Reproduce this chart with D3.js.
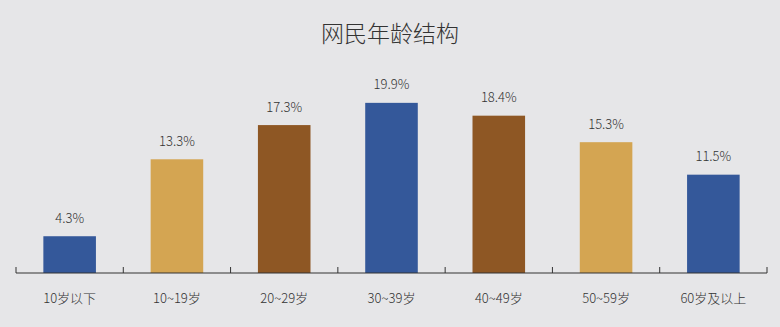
<!DOCTYPE html>
<html><head><meta charset="utf-8">
<script src="https://cdn.jsdelivr.net/npm/d3@7"></script>
<style>html,body{margin:0;padding:0;background:#e6e6e8;}svg{display:block;}</style>
</head><body><svg id="c" width="780" height="327"></svg>
<script>
const categories = ["10岁以下","10~19岁","20~29岁","30~39岁","40~49岁","50~59岁","60岁及以上"];
const values = [4.3,13.3,17.3,19.9,18.4,15.3,11.5];
const labels = ["4.3%","13.3%","17.3%","19.9%","18.4%","15.3%","11.5%"];
const colors = ["#34589a","#d4a552","#8e5724","#34589a","#8e5724","#d4a552","#34589a"];
const title = "网民年龄结构";

const svg = d3.select("#c");
const font = "'Noto Sans CJK SC','Noto Sans',sans-serif";
svg.append("rect").attr("width",780).attr("height",327).attr("fill","#e6e6e8");

const x = d3.scaleBand().domain(categories).range([16,767]).paddingInner(0).paddingOuter(0);
const y = d3.scaleLinear().domain([0,20]).range([273,102]);
const bw = x.bandwidth()*0.49;

svg.append("text").attr("x",390).attr("y",42).attr("text-anchor","middle")
  .attr("font-family",font).attr("font-size",23).attr("font-weight",300).attr("fill","#333").text(title);

svg.selectAll("rect.bar").data(values).enter().append("rect").attr("class","bar")
  .attr("x",(d,i)=>x(categories[i])+x.bandwidth()/2-bw/2)
  .attr("y",d=>y(d)).attr("width",bw).attr("height",d=>y(0)-y(d))
  .attr("fill",(d,i)=>colors[i]);

svg.selectAll("text.val").data(values).enter().append("text").attr("class","val")
  .attr("x",(d,i)=>x(categories[i])+x.bandwidth()/2)
  .attr("y",d=>y(d)-13.5).attr("text-anchor","middle")
  .attr("font-family",font).attr("font-size",13).attr("font-weight",300).attr("fill","#333")
  .text((d,i)=>labels[i]);

const axis = svg.append("g").attr("transform","translate(0,273)");
axis.append("line").attr("x1",16).attr("x2",767).attr("stroke","#333").attr("stroke-width",1.2);
const ticks = categories.map(c=>x(c)).concat([x.range()[1]]);
axis.selectAll("line.t").data(ticks).enter().append("line").attr("class","t")
  .attr("x1",d=>d).attr("x2",d=>d).attr("y1",-6).attr("y2",0).attr("stroke","#333").attr("stroke-width",1);
axis.selectAll("text").data(categories).enter().append("text")
  .attr("x",c=>x(c)+x.bandwidth()/2).attr("y",30).attr("text-anchor","middle")
  .attr("font-family",font).attr("font-size",13).attr("font-weight",300).attr("fill","#333").text(c=>c);
</script></body></html>
